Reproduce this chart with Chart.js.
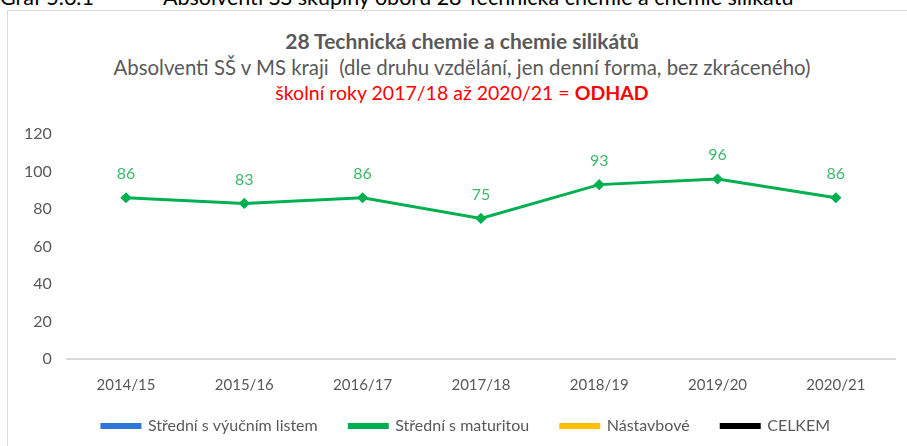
<!DOCTYPE html>
<html><head><meta charset="utf-8">
<script src="https://cdn.jsdelivr.net/npm/chart.js@4/dist/chart.umd.min.js"></script>
<style>
html,body{margin:0;padding:0;background:#fff;width:907px;height:446px;overflow:hidden;font-family:Lato,"Open Sans",sans-serif;}
.cap{position:absolute;top:-16px;font-size:21.5px;color:#000;white-space:pre;}
#frame{position:absolute;left:7px;top:10px;width:905px;height:445px;border:1px solid #d9d9d9;box-sizing:border-box;}
.t{position:absolute;left:0;width:924px;text-align:center;white-space:pre;line-height:1;}
#t1{top:30px;font-size:21px;font-weight:bold;color:#595959;}
#t2{top:57px;font-size:20.4px;color:#595959;}
#t3{top:83px;font-size:19.5px;color:#ff0000;}
#wrap{position:absolute;left:0;top:0;width:907px;height:446px;overflow:hidden;}
</style></head>
<body>
<div class="cap" style="left:0">Graf 5.6.1</div>
<div class="cap" style="left:163px">Absolventi SŠ skupiny oborů 28 Technická chemie a chemie silikátů</div>
<div id="frame"></div>
<div class="t" id="t1">28 Technická chemie a chemie silikátů</div>
<div class="t" id="t2">Absolventi SŠ v MS kraji  (dle druhu vzdělání, jen denní forma, bez zkráceného)</div>
<div class="t" id="t3">školní roky 2017/18 až 2020/21 = <b>ODHAD</b></div>
<div id="wrap"><canvas id="c" width="907" height="444"></canvas></div>
<script>
const categories = ["2014/15","2015/16","2016/17","2017/18","2018/19","2019/20","2020/21"];
const seriesNames = ["Střední s výučním listem","Střední s maturitou","Nástavbové","CELKEM"];
const vyucni = [null,null,null,null,null,null,null];
const maturita = [86,83,86,75,93,96,86];
const nastavbove = [null,null,null,null,null,null,null];
const celkem = [null,null,null,null,null,null,null];
const yTicks = [0,20,40,60,80,100,120];

const colors = ["#2e75d6","#00b050","#ffc000","#000000"];
const seriesData = [vyucni, maturita, nastavbove, celkem];

const labelPlugin = {
  id:'vlabels',
  afterDatasetsDraw(chart){
    const ctx = chart.ctx;
    chart.data.datasets.forEach((ds,i)=>{
      const meta = chart.getDatasetMeta(i);
      meta.data.forEach((pt,j)=>{
        const v = ds.data[j];
        if(v==null) return;
        ctx.save();
        ctx.font = '16px Lato';
        ctx.fillStyle = '#3cb96a';
        ctx.textAlign='center';
        ctx.textBaseline='middle';
        ctx.fillText(String(v), pt.x, pt.y-24);
        ctx.restore();
      });
    });
  }
};

const legendShift = {
  id:'legendShift',
  afterLayout(chart){
    if(chart.legend){ chart.legend.left += 14; chart.legend.right += 14; }
  }
};

new Chart(document.getElementById('c'),{
  type:'line',
  data:{
    labels:categories,
    datasets:seriesData.map((d,i)=>({
      label:seriesNames[i],
      data:d,
      borderColor:colors[i],
      backgroundColor:colors[i],
      borderWidth:3,
      pointStyle:'rectRot',
      pointRadius:3.5,
      pointHoverRadius:3.5,
      tension:0,
      spanGaps:false
    }))
  },
  options:{
    responsive:false,
    animation:false,
    layout:{padding:{left:9,right:12,top:134,bottom:0}},
    plugins:{
      legend:{position:'bottom',labels:{font:{family:'Lato',size:16},color:'#595959',boxWidth:38,boxHeight:3,padding:7,
        generateLabels(chart){
          const items = Chart.defaults.plugins.legend.labels.generateLabels(chart);
          items.forEach((it,k)=>{ if(k<items.length-1) it.text = it.text + '      '; });
          return items;
        }}},
      tooltip:{enabled:false},
      title:{display:false}
    },
    scales:{
      x:{
        offset:true,
        grid:{display:false,drawTicks:false},
        border:{color:'#d9d9d9',width:2},
        ticks:{font:{family:'Lato',size:15},color:'#595959',padding:17}
      },
      y:{
        min:0,max:120,
        afterBuildTicks(ax){ax.ticks = yTicks.map(v=>({value:v}));},
        grid:{display:false,drawTicks:false},
        border:{display:false},
        ticks:{font:{family:'Lato',size:16},color:'#595959',padding:15}
      }
    }
  },
  plugins:[labelPlugin, legendShift]
});
</script>
</body></html>
